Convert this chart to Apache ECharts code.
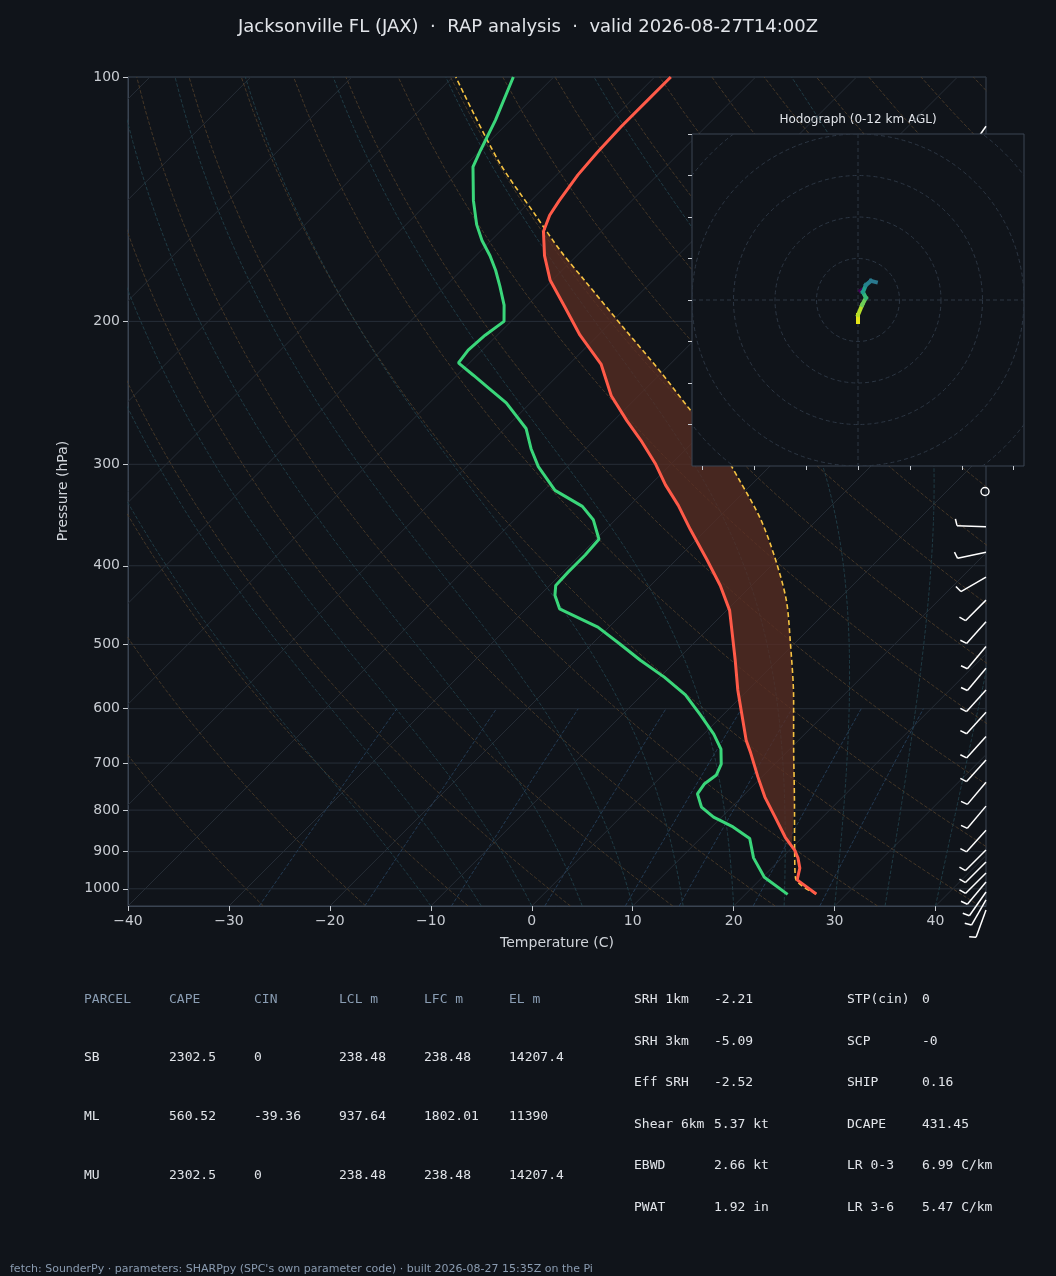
<!DOCTYPE html>
<html><head><meta charset="utf-8">
<script src="https://cdn.jsdelivr.net/npm/echarts@6/dist/echarts.min.js"></script>
<style>html,body{margin:0;padding:0;background:#10141a}#c{width:1056px;height:1276px}</style>
</head><body><div id="c"></div>
<script>
// ---- data ----
const tempP = [1015,975,943,916,896,864,816,771,728,680,656,611,569,523,454,423,393,361,337,318,300,280,265,247,226,208,192,178,166,155,148,142,132,124,115,107,100];
const tempT = [27.0,23.7,22.8,21.6,20.5,18.3,15.3,12.3,9.6,6.5,4.8,1.9,-1.0,-4.2,-9.7,-13.1,-17.0,-21.6,-25.2,-28.5,-31.5,-35.4,-38.7,-42.7,-46.8,-51.8,-56.1,-60.2,-63.2,-65.7,-66.7,-67.2,-67.9,-68.2,-68.4,-68.4,-68.4];
const dewP = [1016,968,916,867,839,816,793,764,743,724,702,673,645,611,577,549,523,499,476,452,435,423,407,388,371,351,338,323,302,287,271,252,242,233,225,217,208,200,191,181,173,166,159,152,142,129,123,113,100];
const dewT = [24.2,20.2,17.2,14.9,12.1,9.2,7.0,5.3,5.0,5.3,4.7,3.2,1.0,-2.2,-5.7,-9.5,-13.6,-17.3,-21.1,-26.7,-28.5,-29.4,-29.5,-29.5,-29.7,-32.2,-34.6,-38.9,-42.9,-45.4,-47.9,-52.4,-55.5,-58.4,-61.1,-61.4,-61.2,-60.7,-62.3,-64.6,-66.6,-68.6,-70.9,-73.0,-75.7,-79.1,-80.0,-81.5,-84.0];
const parcelP = [1015,971,896,777,656,585,494,441,393,351,314,280,257,230,205,178,164,148,127,100];
const parcelT = [27.0,23.4,20.5,15.5,9.5,5.5,-0.75,-5.1,-10.2,-15.6,-21.6,-28.0,-33.5,-40.4,-47.8,-56.8,-62.0,-68.1,-77.1,-89.7];
const capeBottom = [880, 19.6], capeTop = [155, -65.5];
const windP   = [115,358,385,413,441,469,503,535,569,606,649,694,739,791,847,896,927,956,981,1009,1032,1062];
const windDir = [215,272,258,240,225,222,220,220,222,222,222,222,220,220,222,225,225,225,220,215,210,200];
const windSpd = [5,5,5,5,5,5,5,5,5,5,5,5,5,5,5,5,5,5,5,5,5,5];
const calmP = [324];
const hodoU = [0.6,1.2, 0,0,1.0,1.9,1.2,1.9,3.1,4.3];
const hodoV = [2.2,2.6, -5.3,-3.6,-1.2,0.5,1.9,3.6,4.6,4.3];
const hodoC = ['#440154','#440154','#fde725','#e5e419','#b5de2b','#6ece58','#35b779','#1f9e89','#26828e','#2a788e'];
const pressureTicks = [100,200,300,400,500,600,700,800,900,1000];
const tempTicks = [-40,-30,-20,-10,0,10,20,30,40];
const parcelHead = ['PARCEL','CAPE','CIN','LCL m','LFC m','EL m'];
const parcelRows = [['SB','2302.5','0','238.48','238.48','14207.4'],['ML','560.52','-39.36','937.64','1802.01','11390'],['MU','2302.5','0','238.48','238.48','14207.4']];
const paramA = [['SRH 1km','-2.21'],['SRH 3km','-5.09'],['Eff SRH','-2.52'],['Shear 6km','5.37 kt'],['EBWD','2.66 kt'],['PWAT','1.92 in']];
const paramB = [['STP(cin)','0'],['SCP','-0'],['SHIP','0.16'],['DCAPE','431.45'],['LR 0-3','6.99 C/km'],['LR 3-6','5.47 C/km']];

// ---- skew transform ----
const PB = 1050, SK = 80.47;
const L = p => Math.log10(p);
const sk = (T,p) => [T + SK*Math.log10(PB/p), L(p)];
const prof = (P,T) => P.map((p,i)=>sk(T[i],p));

const series = [];
const bg = (data,color,type,w) => series.push({type:'line',xAxisIndex:0,yAxisIndex:0,data,showSymbol:false,silent:true,animation:false,lineStyle:{color,width:w||1,type:type||'solid'},z:1});
pressureTicks.forEach(p=>bg([[-40,L(p)],[45,L(p)]],'#262e38','solid',1));
for(let T=-130;T<=40;T+=10) bg([sk(T,1050),sk(T,100)],'#262d36','solid',1);
for(let th=-30;th<=180;th+=10){const d=[];for(let p=1050;p>=100;p-=10){d.push(sk((th+273.15)*Math.pow(p/1000,0.2857)-273.15,p));}bg(d,'#4b3b29','dashed',0.9);}
function moist(T0){const d=[];let p=1050,T=T0+273.15;while(p>=100){d.push(sk(T-273.15,p));const Tc=T-273.15;const es=6.112*Math.exp(17.67*Tc/(Tc+243.5));const rs=0.622*es/(p-es);const g=(287*T+2.501e6*rs)/(1004+(2.501e6*2.501e6*rs*0.622)/(287*T*T))/p;T-=g*5;p-=5;}return d;}
for(let t=-10;t<=40;t+=5) bg(moist(t),'#21404a','dashed',0.9);
[0.4,1,2,4,7,10,16,24].forEach(w=>{const d=[];for(let p=1050;p>=600;p-=25){const e=(w/1000)*p/(0.622+w/1000);const a=Math.log(e/6.112);d.push(sk(243.5*a/(17.67-a),p));}bg(d,'#263f5a','dashed',0.9);});

// CAPE fill
const capeUp = parcelP.map((p,i)=>[p,parcelT[i]]).filter(q=>q[0]<capeBottom[0]&&q[0]>capeTop[0]);
const capeDn = tempP.map((p,i)=>[p,tempT[i]]).filter(q=>q[0]<capeBottom[0]&&q[0]>capeTop[0]).reverse();
const capePoly = [capeBottom].concat(capeUp).concat([capeTop]).concat(capeDn).map(q=>sk(q[1],q[0]));
series.push({type:'custom',xAxisIndex:0,yAxisIndex:0,data:[0],silent:true,animation:false,z:2,
  renderItem:(pa,api)=>({type:'polygon',shape:{points:capePoly.map(c=>api.coord(c))},style:{fill:'rgba(90,45,35,0.75)'}})});
series.push({type:'line',data:prof(parcelP,parcelT),smooth:0.3,showSymbol:false,silent:true,animation:false,z:3,lineStyle:{color:'#f5c242',width:1.6,type:[5,3]}});
series.push({type:'line',data:prof(tempP,tempT),showSymbol:false,silent:true,animation:false,z:4,lineStyle:{color:'#ff5a48',width:3}});
series.push({type:'line',data:prof(dewP,dewT),showSymbol:false,silent:true,animation:false,z:4,lineStyle:{color:'#3ad67a',width:3}});
// barbs
series.push({type:'custom',xAxisIndex:0,yAxisIndex:0,clip:false,silent:true,animation:false,z:4,
  data:windP.map((p,i)=>[45,L(p),windDir[i],windSpd[i]]),
  renderItem:(pa,api)=>{const o=api.coord([api.value(0),api.value(1)]);const d=api.value(2)*Math.PI/180;
    const sx=Math.sin(d),sy=-Math.cos(d);const len=29;const e=[o[0]+sx*len,o[1]+sy*len];
    const a=Math.atan2(sy,sx)+75*Math.PI/180;const hl=api.value(3)>=10?12:7;
    return {type:'group',children:[
      {type:'line',shape:{x1:o[0],y1:o[1],x2:e[0],y2:e[1]},style:{stroke:'#ffffff',lineWidth:1.5}},
      {type:'line',shape:{x1:e[0],y1:e[1],x2:e[0]+Math.cos(a)*hl,y2:e[1]+Math.sin(a)*hl},style:{stroke:'#ffffff',lineWidth:1.5}}]};}});
series.push({type:'custom',xAxisIndex:0,yAxisIndex:0,clip:false,silent:true,animation:false,z:4,data:calmP.map(p=>[45,L(p)]),
  renderItem:(pa,api)=>{const o=api.coord([api.value(0),api.value(1)]);return {type:'circle',shape:{cx:o[0]-1,cy:o[1],r:4},style:{fill:'none',stroke:'#ffffff',lineWidth:1.4}};}});

// hodograph
series.push({type:'custom',xAxisIndex:1,yAxisIndex:1,clip:true,silent:true,animation:false,z:11,data:[0],
  renderItem:(pa,api)=>{const c=api.coord([0,0]);const kids=[];
    [10,20,30,40,50,60].forEach(r=>{const rr=api.size([r,0])[0];kids.push({type:'circle',shape:{cx:c[0],cy:c[1],r:rr},style:{fill:'none',stroke:'#2c3643',lineWidth:1,lineDash:[4,3]}});});
    const a=api.coord([-40,0]),b=api.coord([40,0]),u=api.coord([0,40]),v=api.coord([0,-40]);
    kids.push({type:'line',shape:{x1:a[0],y1:a[1],x2:b[0],y2:b[1]},style:{stroke:'#2c3643',lineDash:[4,3]}});
    kids.push({type:'line',shape:{x1:u[0],y1:u[1],x2:v[0],y2:v[1]},style:{stroke:'#2c3643',lineDash:[4,3]}});
    return {type:'group',children:kids};}});
series.push({type:'custom',xAxisIndex:1,yAxisIndex:1,clip:true,silent:true,animation:false,z:12,data:[0],
  renderItem:(pa,api)=>{const kids=[];for(let i=0;i<hodoU.length-1;i++){if(i===1)continue;const p1=api.coord([hodoU[i],hodoV[i]]),p2=api.coord([hodoU[i+1],hodoV[i+1]]);
    kids.push({type:'line',shape:{x1:p1[0],y1:p1[1],x2:p2[0],y2:p2[1]},style:{stroke:hodoC[i+1],lineWidth:4,lineCap:'square'}});}
    return {type:'group',children:kids};}});

// texts
const g = [];
const txt=(x,y,s,o)=>g.push(Object.assign({type:'text',x,y,style:Object.assign({text:s,fill:'#e2e5ea',font:'13px "DejaVu Sans Mono"',textVerticalAlign:'middle'},o||{})}));
txt(528,27,'Jacksonville FL (JAX)  ·  RAP analysis  ·  valid 2026-08-27T14:00Z',{font:'18px "DejaVu Sans"',textAlign:'center'});
txt(557,943,'Temperature (C)',{font:'14px "DejaVu Sans"',textAlign:'center',fill:'#d0d4da'});
g.push({type:'text',x:63,y:491,rotation:Math.PI/2,style:{text:'Pressure (hPa)',font:'14px "DejaVu Sans"',fill:'#d0d4da',textAlign:'center',textVerticalAlign:'middle'}});
txt(858,120,'Hodograph (0-12 km AGL)',{font:'12px "DejaVu Sans"',textAlign:'center'});
const cx=[84,169,254,339,424,509];
parcelHead.forEach((h,i)=>txt(cx[i],1000,h,{fill:'#8a9db3'}));
parcelRows.forEach((r,j)=>r.forEach((s,i)=>txt(cx[i],1058+j*59,s)));
paramA.forEach((r,j)=>{txt(634,1000+j*41.5,r[0]);txt(714,1000+j*41.5,r[1]);});
paramB.forEach((r,j)=>{txt(847,1000+j*41.5,r[0]);txt(922,1000+j*41.5,r[1]);});
txt(10,1269,"fetch: SounderPy · parameters: SHARPpy (SPC's own parameter code) · built 2026-08-27 15:35Z on the Pi",{font:'11px "DejaVu Sans"',fill:'#8a9bb0'});

const ch = echarts.init(document.getElementById('c'),null,{renderer:'canvas'});
ch.setOption({
  backgroundColor:'#10141a',animation:false,
  grid:[{left:128,top:77,width:858,height:829,show:true,borderColor:'#3a4452',backgroundColor:'transparent',z:0},
        {left:692,top:134,width:332,height:332,show:true,borderColor:'#3a4452',backgroundColor:'#10141a',z:10}],
  xAxis:[{type:'value',gridIndex:0,min:-40,max:45,interval:10,splitLine:{show:false},
          axisLine:{onZero:false,lineStyle:{color:'#3a4452'}},axisTick:{show:true,lineStyle:{color:'#c8ccd2'},length:5,customValues:tempTicks},
          axisLabel:{color:'#c8ccd2',fontSize:14,fontFamily:'DejaVu Sans',customValues:tempTicks,formatter:v=>v<0?'\u2212'+Math.abs(v):''+v}},
         {type:'value',gridIndex:1,min:-40,max:40,z:12,position:'bottom',splitLine:{show:false},axisLine:{show:false,onZero:false},
          axisTick:{show:true,inside:false,length:4,lineStyle:{color:'#c8ccd2'},customValues:[-37.5,-25,-12.5,0,12.5,25,37.5]},axisLabel:{show:false}}],
  yAxis:[{type:'value',gridIndex:0,inverse:true,min:2,max:Math.log10(1050),splitLine:{show:false},
          axisLine:{show:true,onZero:false,lineStyle:{color:'#3a4452'}},
          axisTick:{show:true,length:5,lineStyle:{color:'#c8ccd2'},customValues:pressureTicks.map(L)},
          axisLabel:{color:'#c8ccd2',fontSize:14,fontFamily:'DejaVu Sans',customValues:pressureTicks.map(L),formatter:v=>''+Math.round(Math.pow(10,v))}},
         {type:'value',gridIndex:1,min:-40,max:40,z:12,position:'left',splitLine:{show:false},axisLine:{show:false,onZero:false},
          axisTick:{show:true,length:4,lineStyle:{color:'#c8ccd2'},customValues:[-30,-20,-10,0,10,20,30,40]},axisLabel:{show:false}}],
  series, graphic:{elements:g}
});
</script></body></html>
